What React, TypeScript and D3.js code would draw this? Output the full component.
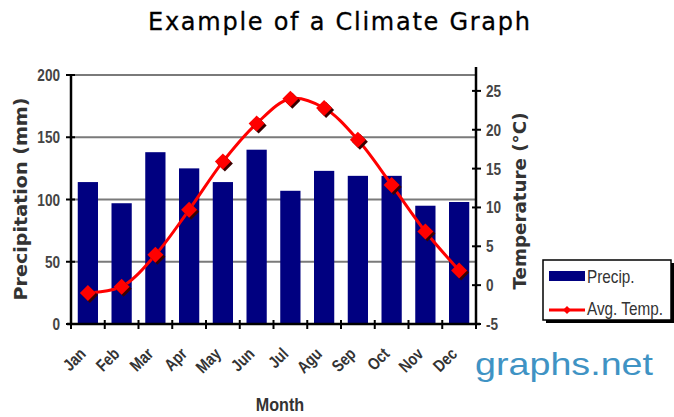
import * as d3 from "d3"
import React from "react"

const months = ["Jan", "Feb", "Mar", "Apr", "May", "Jun", "Jul", "Agu", "Sep", "Oct", "Nov", "Dec"]
const precip = [114, 97, 138, 125, 114, 140, 107, 123, 119, 119, 95, 98]
const avgTemp = [-1, -0.2, 3.9, 9.7, 15.9, 20.8, 24, 22.8, 18.7, 12.9, 6.9, 1.9]
const precipTicks = [0, 50, 100, 150, 200]
const tempTicks = [-5, 0, 5, 10, 15, 20, 25]

const W = 674,
  H = 417
const left = 71,
  right = 476,
  top = 75,
  bottom = 324

const sans = "'Liberation Sans', Arial, sans-serif"
const wide = "'DejaVu Sans', Verdana, sans-serif"

function Diamond({ x, y, r, fill }: { x: number; y: number; r: number; fill: string }) {
  return <path d={`M${x},${y - r}L${x + r},${y}L${x},${y + r}L${x - r},${y}Z`} fill={fill} />
}

// no narrow font installed, so squeeze Liberation Sans horizontally
function Narrow({
  x,
  y,
  size,
  anchor = "start",
  bold = false,
  rotate = 0,
  fill = "#444",
  squeeze = 0.8,
  children,
}: {
  x: number
  y: number
  size: number
  anchor?: string
  bold?: boolean
  rotate?: number
  fill?: string
  squeeze?: number
  children: React.ReactNode
}) {
  return (
    <text
      transform={`translate(${x},${y}) rotate(${rotate}) scale(${squeeze},1)`}
      textAnchor={anchor}
      fontFamily={sans}
      fontWeight={bold ? "bold" : "normal"}
      fontSize={size}
      fill={fill}
    >
      {children}
    </text>
  )
}

export default function App() {
  const x = d3.scaleBand<string>().domain(months).range([left, right]).paddingInner(0.4).paddingOuter(0.2)
  const yP = d3.scaleLinear().domain([0, 200]).range([bottom, top])
  const yT = d3.scaleLinear().domain([-5, 28]).range([bottom, bottom - 33 * 7.77])
  const cx = (m: string) => x(m)! + x.bandwidth() / 2
  const step = (right - left) / months.length

  const line = d3
    .line<number>()
    .x((_, i) => cx(months[i]))
    .y((d) => yT(d))
    .curve(d3.curveCatmullRom.alpha(0.5))

  return (
    <svg width={W} height={H} style={{ position: "absolute", left: 0, top: 0, background: "#fff" }}>
      <text x={339} y={30} textAnchor="middle" fontFamily={wide} fontSize={24} fill="#000" stroke="#000" strokeWidth={0.3} textLength={382} lengthAdjust="spacing">
        Example of a Climate Graph
      </text>

      {/* gridlines */}
      {precipTicks.filter((t) => t > 0).map((t) => (
        <line key={t} x1={left} x2={right} y1={yP(t)} y2={yP(t)} stroke="#7a7a7a" strokeWidth={2} />
      ))}

      {/* bars */}
      {precip.map((v, i) => (
        <rect key={months[i]} x={x(months[i])} y={yP(v)} width={x.bandwidth()} height={yP(0) - yP(v)} fill="#000080" />
      ))}

      {/* axes */}
      <line x1={left} x2={left} y1={top - 1} y2={bottom + 1} stroke="#000" strokeWidth={2.5} />
      <line x1={right} x2={right} y1={67} y2={bottom + 1} stroke="#000" strokeWidth={2.5} />
      <line x1={left - 4} x2={right + 4} y1={bottom} y2={bottom} stroke="#000" strokeWidth={2.5} />
      {d3.range(months.length + 1).map((i) => (
        <line key={i} x1={left + i * step} x2={left + i * step} y1={bottom - 4} y2={bottom + 5} stroke="#000" strokeWidth={2} />
      ))}
      {precipTicks.map((t) => (
        <g key={t}>
          <line x1={left - 5} x2={left + 4} y1={yP(t)} y2={yP(t)} stroke="#000" strokeWidth={2} />
          <Narrow x={left - 11} y={yP(t) + 6} size={17} anchor="end" bold>
            {t}
          </Narrow>
        </g>
      ))}
      {tempTicks.map((t) => (
        <g key={t}>
          <line x1={right - 4} x2={right + 5} y1={yT(t)} y2={yT(t)} stroke="#000" strokeWidth={2} />
          <Narrow x={right + 10} y={yT(t) + 6} size={17} bold>
            {t}
          </Narrow>
        </g>
      ))}

      {/* temperature line */}
      <path d={line(avgTemp) ?? ""} fill="none" stroke="#ff0000" strokeWidth={3} />
      {avgTemp.map((v, i) => (
        <g key={months[i]}>
          <Diamond x={cx(months[i]) + 2} y={yT(v) + 2} r={8} fill="#3a0000" />
          <Diamond x={cx(months[i])} y={yT(v)} r={8} fill="#ff0000" />
        </g>
      ))}

      {/* month labels */}
      {months.map((m) => (
        <Narrow key={m} x={cx(m) - 1} y={bottom + 31} size={17} anchor="end" bold rotate={-45} fill="#333" squeeze={0.82}>
          {m}
        </Narrow>
      ))}

      <Narrow x={280} y={411} size={19} anchor="middle" bold fill="#333" squeeze={0.85}>
        Month
      </Narrow>
      <text transform="translate(27,199) rotate(-90)" textAnchor="middle" fontFamily={wide} fontWeight="bold" fontSize={17} fill="#333" textLength={203} lengthAdjust="spacingAndGlyphs">
        Precipitation (mm)
      </text>
      <text transform="translate(526,201) rotate(-90)" textAnchor="middle" fontFamily={wide} fontWeight="bold" fontSize={17} fill="#333" textLength={177} lengthAdjust="spacingAndGlyphs">
        Temperature (°C)
      </text>

      {/* legend */}
      <rect x={546} y={263} width={128} height={60} fill="#000" />
      <rect x={543} y={260} width={128} height={60} fill="#fff" stroke="#000" strokeWidth={1.5} />
      <rect x={549} y={271} width={36} height={10} fill="#000080" />
      <Narrow x={587} y={283} size={18} fill="#333" squeeze={0.85}>
        Precip.
      </Narrow>
      <line x1={549} x2={585} y1={310} y2={310} stroke="#ff0000" strokeWidth={3} />
      <Diamond x={567} y={310} r={4} fill="#ff0000" />
      <Narrow x={587} y={315} size={18} fill="#333" squeeze={0.85}>
        Avg. Temp.
      </Narrow>

      <text x={475} y={375} fontFamily={sans} fontSize={32} fill="#3f93c4" textLength={178} lengthAdjust="spacingAndGlyphs">
        graphs.net
      </text>
    </svg>
  )
}
